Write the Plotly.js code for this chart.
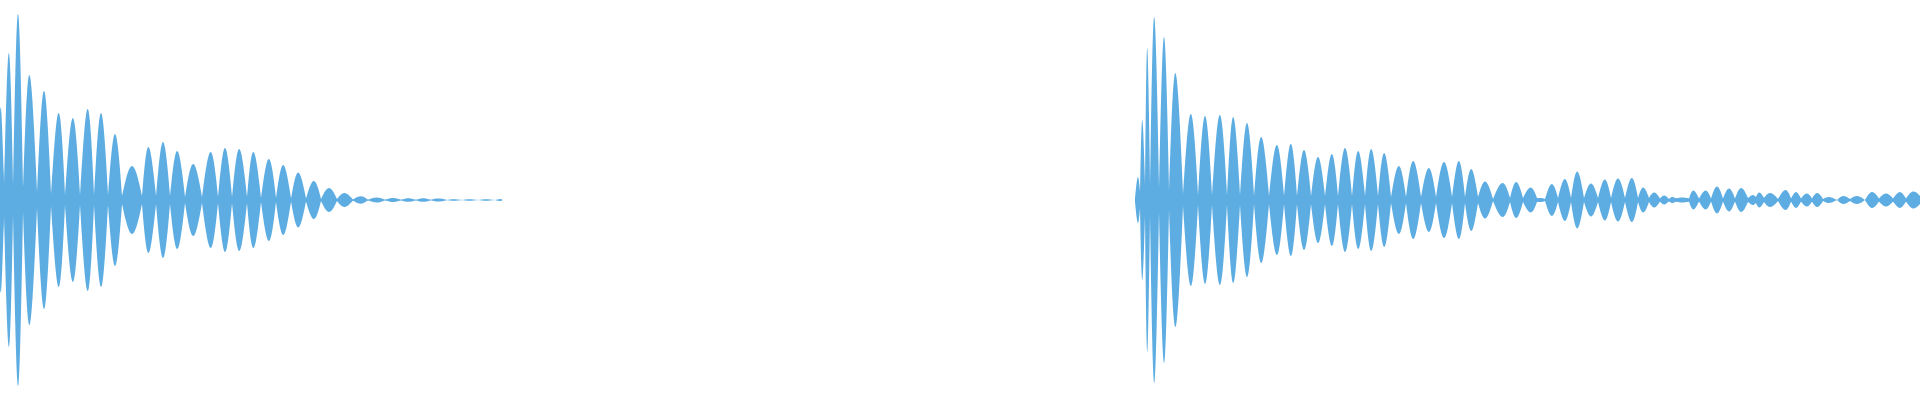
<!DOCTYPE html>
<html>
<head>
<meta charset="utf-8">
<script src="https://cdn.plot.ly/plotly-3.0.1.min.js"></script>
<style>html,body{margin:0;padding:0;background:#fff;}#chart{width:1920px;height:400px;}</style>
</head>
<body>
<div id="chart"></div>
<script>
// Clip 1: envelope points (time in ms, amplitude); even index = node, odd index = lobe peak
const clip1Time = [0, 1, 4, 9, 13, 18, 23, 29, 37, 44, 51, 59, 65, 73, 80, 88, 94, 101, 108, 115,
  122, 132, 142, 148, 156, 163, 170, 177, 185, 193, 202, 211, 218, 225, 232, 239, 247, 253, 261, 269,
  276, 283, 291, 298, 306, 314, 321, 329, 337, 344, 353, 361, 368, 377, 385, 393, 401, 408, 416, 423,
  431, 438, 447, 453, 462, 469, 478, 486, 495, 500, 502];
const clip1Amp = [87, 87, 15, 147, 15, 186, 12, 125, 8, 109, 6, 87, 5, 82, 5, 91, 5, 87, 5, 66,
  4, 34, 4, 53, 4, 58, 4, 49, 3, 36, 3, 48, 3, 52, 3, 51, 3, 48, 2, 41,
  2, 35, 1.5, 27.5, 1.5, 19, 1, 12, 1, 7, 0.5, 3.7, 0.3, 2.5, 0.2, 2, 0.2, 1.8, 0.2, 1.8,
  0.2, 1.5, 0, 0.8, 0, 0.8, 0, 0.8, 0, 0.8, 0.8];

// Clip 2: envelope points (time in ms, amplitude); even index = node, odd index = lobe peak
const clip2Time = [1135, 1138, 1140, 1142, 1145, 1147, 1150, 1154, 1159, 1164, 1169, 1175, 1183, 1191,
  1198, 1205, 1212, 1220, 1227, 1233, 1240, 1247, 1254, 1261, 1269, 1277, 1284, 1291, 1297, 1304,
  1311, 1318, 1325, 1332, 1338, 1345, 1352, 1358, 1365, 1371, 1378, 1384, 1391, 1399, 1406, 1413,
  1421, 1429, 1436, 1444, 1452, 1459, 1465, 1471, 1478, 1485, 1493, 1503, 1510, 1516, 1523, 1531,
  1537, 1541, 1545, 1552, 1558, 1565, 1571, 1577, 1584, 1591, 1598, 1605, 1611, 1618, 1625, 1632,
  1638, 1643, 1649, 1654, 1660, 1664, 1669, 1672, 1676, 1682, 1689, 1693, 1699, 1706, 1711,
  1717, 1723, 1729, 1735, 1741, 1748, 1753, 1756, 1759, 1764, 1770, 1778, 1786, 1791, 1796, 1801,
  1807, 1812, 1817, 1823, 1829, 1837, 1843, 1850, 1857, 1865, 1872, 1879, 1886, 1893, 1900, 1906,
  1913, 1921];
const clip2Amp = [2, 23, 8, 80, 15, 152, 15, 183, 12, 163, 10, 127, 6, 86,
  5, 84, 5, 85, 5, 83, 5, 77, 4, 63, 4, 55, 4, 56, 4, 50,
  4, 43, 4, 46, 4, 52, 4, 49, 4, 51, 4, 47, 3, 34, 3, 39,
  3, 32, 3, 38, 3, 39, 3, 31, 3, 18.5, 1, 17, 2, 18, 2, 12.5,
  2, 2, 1, 16, 2, 21, 2, 28.5, 2, 16.5, 2, 20.5, 2, 21.5, 2, 22,
  2, 12.5, 2, 7.5, 1.5, 4.5, 1, 3, 1.5, 2.5, 1.5, 9.5, 1.5, 9.5, 1.5,
  13.5, 1.5, 11.5, 1.5, 12, 2, 5, 3, 7.5, 2, 7, 1, 10, 1.5, 8, 1.5,
  6.5, 1.5, 7, 1, 3, 0, 4, 1, 4, 0, 8, 1.5, 6.5, 1.5, 8, 1.5,
  8.5, 3];

const waveColor = '#5DADE2';

// Core band through the nodes (filled between +node and -node)
function coreTrace(t, a) {
  const nt = [], na = [];
  for (let i = 0; i < t.length; i += 2) { nt.push(t[i]); na.push(a[i]); }
  return {
    x: nt.concat(nt.slice().reverse()),
    y: na.concat(na.slice().reverse().map(v => -v)),
    type: 'scatter', mode: 'lines', fill: 'toself', fillcolor: waveColor,
    line: {color: waveColor, width: 0}, hoverinfo: 'skip', showlegend: false
  };
}

// One lobe shape per peak, in data coordinates: node -> peak -> node, mirrored below
function lobeShapes(t, a) {
  const shapes = [];
  for (let i = 1; i < t.length - 1; i += 2) {
    const t0 = t[i - 1], tc = t[i], t1 = t[i + 1];
    const n0 = a[i - 1], pk = a[i], n1 = a[i + 1];
    const h = (pk - (n0 + n1) / 8) * 4 / 3;
    const c1 = t0 + 0.85 * (tc - t0), c2 = t1 - 0.85 * (t1 - tc);
    const path = 'M' + t0 + ',' + n0 +
      ' C' + c1 + ',' + h + ' ' + c2 + ',' + h + ' ' + t1 + ',' + n1 +
      ' L' + t1 + ',' + (-n1) +
      ' C' + c2 + ',' + (-h) + ' ' + c1 + ',' + (-h) + ' ' + t0 + ',' + (-n0) + ' Z';
    shapes.push({type: 'path', xref: 'x', yref: 'y', path: path,
      fillcolor: waveColor, line: {width: 0}, layer: 'above'});
  }
  return shapes;
}

const data = [coreTrace(clip1Time, clip1Amp), coreTrace(clip2Time, clip2Amp)];

const layout = {
  width: 1920, height: 400,
  margin: {l: 0, r: 0, t: 0, b: 0},
  paper_bgcolor: '#ffffff', plot_bgcolor: '#ffffff',
  xaxis: {range: [0, 1920], visible: false, fixedrange: true},
  yaxis: {range: [-200, 200], visible: false, fixedrange: true},
  showlegend: false,
  shapes: lobeShapes(clip1Time, clip1Amp).concat(lobeShapes(clip2Time, clip2Amp))
};

Plotly.newPlot('chart', data, layout, {displayModeBar: false, staticPlot: true});
</script>
</body>
</html>
